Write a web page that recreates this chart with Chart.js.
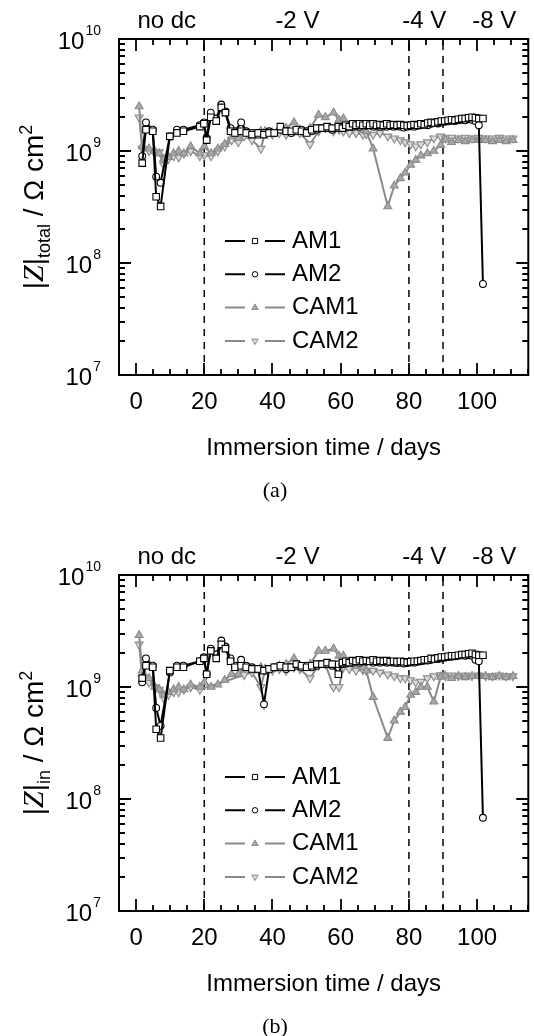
<!DOCTYPE html>
<html>
<head>
<meta charset="utf-8">
<script src="https://cdn.jsdelivr.net/npm/chart.js@4.4.0/dist/chart.umd.min.js"></script>
<style>
  body { margin: 0; background: #fff; }
  .panel { position: absolute; left: 0; width: 534px; height: 518px; }
</style>
</head>
<body>
<div class="panel" style="top:0"><canvas id="chartA" width="534" height="518"></canvas></div>
<div class="panel" style="top:518px"><canvas id="chartB" width="534" height="518"></canvas></div>
<script>
// measurement days (AM coatings and CAM coatings)
const amDays = [1.8, 2.9, 4.9, 5.9, 7.2, 9.9, 12.0, 13.9, 18.7, 19.9,
  20.7, 21.9, 23.5, 25.0, 26.2, 27.7, 29.0, 30.8, 32.3, 34.0,
  35.8, 37.5, 39.0, 40.5, 42.3, 44.0, 45.5, 47.0, 48.5, 50.0,
  51.5, 53.0, 54.5, 56.0, 57.5, 59.3, 60.5,
  61.5, 62.5, 63.5, 64.5, 65.5, 66.5, 67.5, 68.5, 69.5, 70.5,
  71.5, 72.5, 73.5, 74.5, 75.5, 76.5, 77.5, 78.5, 79.5, 80.5,
  81.5, 82.5, 83.5, 84.5, 85.5, 86.5, 87.5, 88.5, 89.5, 90.5,
  91.5, 92.5, 93.5, 94.5, 95.5, 96.5, 97.5, 98.5, 99.5, 100.5,
  101.7];
const camDays = [0.9, 1.8, 3.8, 5.5, 6.8, 8.1, 9.5, 11.0, 12.5, 14.0,
  16.0, 18.7, 20.0, 22.0, 24.0, 26.0, 28.0, 30.0, 31.7, 34.0,
  36.6, 37.8, 40.0, 42.0, 44.0, 46.3, 48.0, 51.0, 53.5, 55.5,
  57.9, 59.5, 60.8, 62.5, 64.5, 66.5, 67.5, 69.5, 71.5, 73.8,
  75.7, 77.5, 78.9, 80.5, 82.0, 83.5, 85.4, 87.3, 89.3, 90.7,
  92.5, 94.5, 96.5, 98.5, 100.5, 102.5, 104.5, 106.5, 108.5, 110.5];

// (a) |Z|total
const am1Total = [7.8e8, 1.55e9, 1.5e9, 3.9e8, 3.2e8, 1.35e9, 1.45e9, 1.5e9, 1.65e9, 1.75e9,
  1.25e9, 2.0e9, 1.85e9, 2.45e9, 2.2e9, 1.5e9, 1.45e9, 1.5e9, 1.45e9, 1.4e9,
  1.45e9, 1.4e9, 1.45e9, 1.45e9, 1.65e9, 1.5e9, 1.5e9, 1.55e9, 1.5e9, 1.45e9,
  1.55e9, 1.6e9, 1.6e9, 1.65e9, 1.6e9, 1.65e9, 1.6e9,
  1.7e9, 1.65e9, 1.75e9, 1.7e9, 1.75e9, 1.7e9, 1.75e9, 1.7e9, 1.75e9, 1.7e9,
  1.72e9, 1.7e9, 1.75e9, 1.7e9, 1.72e9, 1.7e9, 1.72e9, 1.7e9, 1.68e9, 1.7e9,
  1.72e9, 1.7e9, 1.75e9, 1.72e9, 1.78e9, 1.8e9, 1.78e9, 1.82e9, 1.85e9, 1.85e9,
  1.88e9, 1.9e9, 1.88e9, 1.92e9, 1.95e9, 1.95e9, 1.98e9, 2.0e9, 1.98e9, 1.95e9,
  1.95e9];
const am2Total = [9.0e8, 1.8e9, 1.55e9, 5.9e8, 5.2e8, 1.35e9, 1.55e9, 1.55e9, 1.7e9, 1.8e9,
  1.3e9, 2.2e9, 1.95e9, 2.6e9, 2.25e9, 1.6e9, 1.5e9, 1.8e9, 1.5e9, 1.45e9,
  1.4e9, 1.45e9, 1.5e9, 1.45e9, 1.55e9, 1.5e9, 1.45e9, 1.5e9, 1.55e9, 1.5e9,
  1.5e9, 1.55e9, 1.6e9, 1.6e9, 1.55e9, 1.6e9, 1.65e9,
  1.62e9, 1.7e9, 1.65e9, 1.7e9, 1.65e9, 1.7e9, 1.68e9, 1.7e9, 1.65e9, 1.68e9,
  1.65e9, 1.68e9, 1.65e9, 1.68e9, 1.65e9, 1.66e9, 1.65e9, 1.62e9, 1.65e9, 1.66e9,
  1.65e9, 1.68e9, 1.7e9, 1.72e9, 1.7e9, 1.75e9, 1.78e9, 1.76e9, 1.8e9, 1.82e9,
  1.84e9, 1.86e9, 1.85e9, 1.88e9, 1.9e9, 1.88e9, 1.92e9, 1.9e9, 1.85e9, 1.7e9,
  6.5e7];
const cam1Total = [2.5e9, 1.1e9, 1.05e9, 1.0e9, 9.5e8, 8.5e8, 8.8e8, 9.5e8, 1.0e9, 9.5e8,
  1.1e9, 9.5e8, 1.1e9, 9.5e8, 1.05e9, 1.15e9, 1.35e9, 1.3e9, 1.5e9, 1.4e9,
  1.5e9, 1.5e9, 1.45e9, 1.55e9, 1.6e9, 1.8e9, 1.55e9, 1.6e9, 2.1e9, 2.0e9,
  2.2e9, 1.9e9, 1.95e9, 1.65e9, 1.6e9, 1.55e9, 1.5e9, 1.05e9, null, 3.2e8,
  4.9e8, 5.7e8, 6.4e8, 7.5e8, 8.3e8, 9.1e8, 9.5e8, 1.0e9, 1.13e9, 1.26e9,
  1.2e9, 1.25e9, 1.22e9, 1.25e9, 1.25e9, 1.25e9, 1.22e9, 1.25e9, 1.22e9, 1.25e9];
const cam2Total = [2.0e9, 1.05e9, 1.0e9, 9.5e8, 9.8e8, 7.5e8, 8.5e8, 9.0e8, 8.8e8, 9.5e8,
  1.0e9, 9.0e8, 9.2e8, 9.0e8, 1.0e9, 1.1e9, 1.25e9, 1.2e9, 1.35e9, 1.25e9,
  1.05e9, 1.45e9, 1.4e9, 1.45e9, 1.4e9, 1.5e9, 1.45e9, 1.15e9, 1.5e9, 1.6e9,
  1.5e9, 1.55e9, 1.5e9, 1.45e9, 1.45e9, 1.4e9, 1.42e9, 1.4e9, 1.45e9, 1.35e9,
  1.3e9, 1.25e9, 1.2e9, 1.15e9, 1.1e9, 1.15e9, 1.2e9, 1.3e9, 1.35e9, 1.3e9,
  1.32e9, 1.3e9, 1.32e9, 1.3e9, 1.32e9, 1.3e9, 1.3e9, 1.32e9, 1.3e9, 1.3e9];

// (b) |Z|in
const am1In = [1.2e9, 1.55e9, 1.5e9, 4.2e8, 3.5e8, 1.4e9, 1.5e9, 1.5e9, 1.7e9, 1.8e9,
  1.3e9, 2.1e9, 1.8e9, 2.4e9, 2.2e9, 1.7e9, 1.5e9, 1.55e9, 1.5e9, 1.45e9,
  1.45e9, 1.4e9, 1.45e9, 1.5e9, 1.55e9, 1.5e9, 1.5e9, 1.6e9, 1.55e9, 1.5e9,
  1.55e9, 1.6e9, 1.6e9, 1.65e9, 1.6e9, 1.3e9, 1.65e9,
  1.7e9, 1.65e9, 1.72e9, 1.7e9, 1.75e9, 1.7e9, 1.72e9, 1.7e9, 1.75e9, 1.7e9,
  1.72e9, 1.7e9, 1.72e9, 1.68e9, 1.7e9, 1.68e9, 1.7e9, 1.68e9, 1.66e9, 1.68e9,
  1.7e9, 1.7e9, 1.72e9, 1.75e9, 1.75e9, 1.8e9, 1.78e9, 1.82e9, 1.85e9, 1.85e9,
  1.88e9, 1.9e9, 1.9e9, 1.92e9, 1.95e9, 1.95e9, 1.98e9, 2.0e9, 1.95e9, 1.92e9,
  1.92e9];
const am2In = [1.1e9, 1.8e9, 1.55e9, 6.5e8, 4.5e8, 1.35e9, 1.55e9, 1.55e9, 1.7e9, 1.85e9,
  1.3e9, 2.2e9, 1.95e9, 2.6e9, 2.3e9, 1.8e9, 1.55e9, 1.75e9, 1.55e9, 1.5e9,
  1.45e9, 7.0e8, 1.45e9, 1.5e9, 1.5e9, 1.45e9, 1.5e9, 1.55e9, 1.5e9, 1.55e9,
  1.5e9, 1.55e9, 1.6e9, 1.6e9, 1.55e9, 1.6e9, 1.6e9,
  1.62e9, 1.68e9, 1.65e9, 1.7e9, 1.65e9, 1.7e9, 1.68e9, 1.7e9, 1.65e9, 1.68e9,
  1.65e9, 1.68e9, 1.65e9, 1.66e9, 1.65e9, 1.64e9, 1.65e9, 1.62e9, 1.64e9, 1.66e9,
  1.65e9, 1.68e9, 1.7e9, 1.72e9, 1.72e9, 1.75e9, 1.78e9, 1.78e9, 1.8e9, 1.82e9,
  1.85e9, 1.86e9, 1.88e9, 1.9e9, 1.92e9, 1.9e9, 1.92e9, 1.9e9, 1.75e9, 1.7e9,
  6.8e7];
const cam1In = [2.9e9, 1.4e9, 1.2e9, 1.0e9, 9.5e8, 8.5e8, 9.0e8, 9.5e8, 1.0e9, 9.5e8,
  1.05e9, 1.0e9, 1.1e9, 1.0e9, 1.05e9, 1.15e9, 1.3e9, 1.3e9, 1.45e9, 1.4e9,
  1.5e9, 1.45e9, 1.45e9, 1.55e9, 1.6e9, 1.8e9, 1.55e9, 1.6e9, 2.1e9, 2.1e9,
  2.2e9, 1.9e9, 1.9e9, 1.6e9, 1.55e9, 1.5e9, 1.4e9, 8.1e8, null, 3.5e8,
  5.0e8, 6.0e8, 6.6e8, 8.5e8, 9.0e8, 1.0e9, 1.0e9, 7.4e8, 1.23e9, 1.26e9,
  1.2e9, 1.25e9, 1.22e9, 1.25e9, 1.25e9, 1.25e9, 1.22e9, 1.25e9, 1.22e9, 1.25e9];
const cam2In = [2.4e9, 1.2e9, 1.1e9, 1.0e9, 9.5e8, 8.0e8, 8.5e8, 9.0e8, 9.0e8, 9.5e8,
  1.0e9, 9.5e8, null, null, null, null, null, null, 1.28e9, 1.35e9,
  1.0e9, 1.4e9, 1.4e9, 1.45e9, 1.4e9, 1.5e9, 1.45e9, 1.2e9, 1.55e9, 1.6e9,
  1.0e9, 1.0e9, 1.5e9, 1.45e9, 1.4e9, 1.42e9, 1.4e9, 1.4e9, 1.35e9, 1.3e9,
  1.25e9, 1.2e9, 1.2e9, 1.15e9, 1.1e9, 1.12e9, 1.2e9, 1.25e9, 1.28e9, 1.25e9,
  1.27e9, 1.25e9, 1.27e9, 1.25e9, 1.27e9, 1.25e9, 1.25e9, 1.27e9, 1.25e9, 1.25e9];

const seriesNames = ['AM1', 'AM2', 'CAM1', 'CAM2'];
const dcSwitchDays = [20, 80, 90];
const phaseLabels = ['no dc', '-2 V', '-4 V', '-8 V'];
const phaseLabelDays = [9, 47.3, 84.5, 105];
const xTickLabels = [0, 20, 40, 60, 80, 100];
const yTickExponents = [7, 8, 9, 10];

const SANS = '"Liberation Sans", Arial, sans-serif';
const SERIF = '"Liberation Serif", "Times New Roman", serif';
const GREY = '#8a8a8a';

function pts(days, vals) {
  return days.map((d, i) => ({ x: d, y: vals[i] === undefined ? null : vals[i] }));
}

// ticks, frame, labels, legend
const framePlugin = {
  id: 'frame',
  afterDraw(chart, args, o) {
    const { ctx, chartArea: a, scales: { x, y } } = chart;
    ctx.save();
    ctx.strokeStyle = '#000';
    ctx.fillStyle = '#000';
    ctx.lineWidth = 2;
    ctx.strokeRect(a.left, a.top, a.right - a.left, a.bottom - a.top);

    ctx.lineWidth = 1.8;
    ctx.beginPath();
    for (let d = -5; d <= 115; d += 5) {
      const px = Math.round(x.getPixelForValue(d));
      const len = d % 20 === 0 ? 12 : 6;
      ctx.moveTo(px, a.bottom); ctx.lineTo(px, a.bottom - len);
      ctx.moveTo(px, a.top); ctx.lineTo(px, a.top + len);
    }
    for (let e = 7; e <= 10; e++) {
      for (let m = 1; m <= 9; m++) {
        if (e === 10 && m > 1) break;
        const py = Math.round(y.getPixelForValue(m * Math.pow(10, e)));
        const len = m === 1 ? 12 : 6;
        ctx.moveTo(a.left, py); ctx.lineTo(a.left + len, py);
        ctx.moveTo(a.right, py); ctx.lineTo(a.right - len, py);
      }
    }
    ctx.stroke();

    // x tick labels
    ctx.font = '24px ' + SANS;
    ctx.textAlign = 'center';
    ctx.textBaseline = 'middle';
    xTickLabels.forEach(v => ctx.fillText(String(v), x.getPixelForValue(v), a.bottom + 27));

    // y tick labels 10^n
    yTickExponents.forEach(e => {
      const py = y.getPixelForValue(Math.pow(10, e));
      ctx.font = '14px ' + SANS;
      const sw = ctx.measureText(String(e)).width;
      ctx.textAlign = 'right';
      ctx.textBaseline = 'middle';
      ctx.fillText(String(e), 101, py - 8);
      ctx.font = '24px ' + SANS;
      ctx.fillText('10', 101 - sw - 1, py + 3);
    });

    // phase labels above the frame
    ctx.font = '24px ' + SANS;
    ctx.textAlign = 'center';
    ctx.textBaseline = 'middle';
    phaseLabels.forEach((t, i) => ctx.fillText(t, x.getPixelForValue(phaseLabelDays[i]), a.top - 18));

    // x title + panel tag
    ctx.fillText('Immersion time / days', (a.left + a.right) / 2, a.bottom + 73);
    ctx.font = '22px ' + SERIF;
    ctx.fillText(o.tag, 275, a.bottom + 116);

    // y title, rotated
    const parts = [
      ['|', '28px ' + SANS, 0],
      ['Z', 'italic 30px ' + SERIF, 0],
      ['|', '28px ' + SANS, 0],
      [o.sub, '18px ' + SANS, 7],
      [' / \u03A9 cm', '28px ' + SANS, 0],
      ['2', '18px ' + SANS, -11]
    ];
    let total = 0;
    parts.forEach(p => { ctx.font = p[1]; total += ctx.measureText(p[0]).width; });
    ctx.save();
    ctx.translate(43, (a.top + a.bottom) / 2);
    ctx.rotate(-Math.PI / 2);
    ctx.textAlign = 'left';
    ctx.textBaseline = 'alphabetic';
    let cx = -total / 2;
    parts.forEach(p => {
      ctx.font = p[1];
      ctx.fillText(p[0], cx, p[2]);
      cx += ctx.measureText(p[0]).width;
    });
    ctx.restore();

    // legend
    for (let i = 0; i < 4; i++) {
      const ds = chart.data.datasets[i];
      const ly = a.top + 202 + 33.3 * i;
      ctx.strokeStyle = ds.borderColor;
      ctx.lineWidth = 2;
      ctx.beginPath();
      ctx.moveTo(225, ly); ctx.lineTo(245, ly);
      ctx.moveTo(265, ly); ctx.lineTo(285, ly);
      ctx.stroke();
      ctx.fillStyle = ds.pointBackgroundColor;
      ctx.strokeStyle = ds.pointBorderColor;
      ctx.lineWidth = 1;
      Chart.helpers.drawPoint(ctx, { pointStyle: ds.pointStyle, radius: ds.pointRadius * 0.8, rotation: ds.pointRotation || 0, borderWidth: 1 }, 255, ly);
      ctx.fillStyle = '#000';
      ctx.font = '24px ' + SANS;
      ctx.textAlign = 'left';
      ctx.textBaseline = 'middle';
      ctx.fillText(seriesNames[i], 292, ly);
    }
    ctx.restore();
  }
};

function makePanel(id, vals, sub, tag, padTop, padBottom) {
  const styles = [
    { borderColor: '#000', pointStyle: 'rect', pointRadius: 4.6, pointBackgroundColor: '#fff', pointBorderColor: '#000' },
    { borderColor: '#000', pointStyle: 'circle', pointRadius: 3.4, pointBackgroundColor: '#fff', pointBorderColor: '#000' },
    { borderColor: GREY, pointStyle: 'triangle', pointRadius: 4.6, pointBackgroundColor: '#a8a8a8', pointBorderColor: GREY },
    { borderColor: GREY, pointStyle: 'triangle', pointRotation: 180, pointRadius: 4.6, pointBackgroundColor: '#dcdcdc', pointBorderColor: GREY }
  ];
  const dayLists = [amDays, amDays, camDays, camDays];
  const datasets = vals.map((v, i) => Object.assign({
    label: seriesNames[i],
    data: pts(dayLists[i], v),
    borderWidth: 2,
    pointBorderWidth: 1.1,
    spanGaps: true,
    tension: 0,
    order: i < 2 ? 1 : 2
  }, styles[i]));
  dcSwitchDays.forEach(d => datasets.push({
    label: 'dc' + d,
    data: [{ x: d, y: 1e7 }, { x: d, y: 1e10 }],
    borderColor: '#000',
    borderWidth: 1.5,
    borderDash: [7, 6],
    pointRadius: 0,
    order: 5
  }));
  return new Chart(document.getElementById(id), {
    type: 'line',
    data: { datasets: datasets },
    options: {
      responsive: false,
      animation: false,
      devicePixelRatio: 1,
      layout: { padding: { left: 119, right: 1.5, top: padTop, bottom: padBottom } },
      plugins: { legend: { display: false }, tooltip: { enabled: false }, frame: { sub: sub, tag: tag } },
      scales: {
        x: { type: 'linear', min: -5, max: 115, display: false },
        y: { type: 'logarithmic', min: 1e7, max: 1e10, display: false }
      }
    },
    plugins: [framePlugin]
  });
}

makePanel('chartA', [am1Total, am2Total, cam1Total, cam2Total], 'total', '(a)', 39, 143);
makePanel('chartB', [am1In, am2In, cam1In, cam2In], 'in', '(b)', 57, 125);
</script>
</body>
</html>
